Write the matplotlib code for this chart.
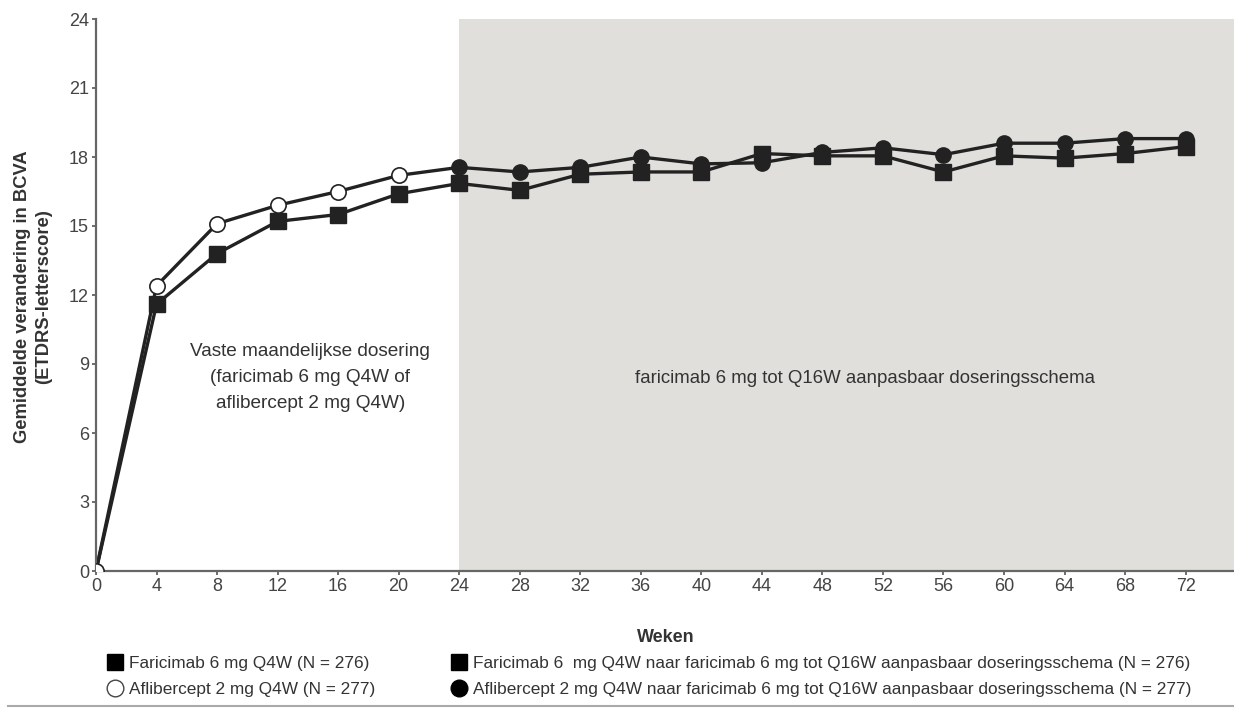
import matplotlib
matplotlib.use("Agg")
import matplotlib.pyplot as plt
from matplotlib.lines import Line2D

plt.rcParams['font.family'] = ['Liberation Sans', 'DejaVu Sans']

# weeks and mean BCVA change (ETDRS letters)
weeks = [0, 4, 8, 12, 16, 20, 24, 28, 32, 36, 40, 44, 48, 52, 56, 60, 64, 68, 72]
faricimab = [0, 11.6, 13.8, 15.2, 15.5, 16.4, 16.85, 16.55, 17.25, 17.35, 17.35, 18.15,
             18.05, 18.05, 17.35, 18.05, 17.95, 18.15, 18.45]
aflibercept = [0, 12.4, 15.1, 15.9, 16.5, 17.2, 17.55, 17.35, 17.55, 18.0, 17.7, 17.75,
               18.2, 18.4, 18.1, 18.6, 18.6, 18.8, 18.8]
switch_week = 24

yticks = [0, 3, 6, 9, 12, 15, 18, 21, 24]
xticks = list(range(0, 73, 4))

legend_labels = ["Faricimab 6 mg Q4W (N = 276)",
                 "Aflibercept 2 mg Q4W (N = 277)",
                 "Faricimab 6  mg Q4W naar faricimab 6 mg tot Q16W aanpasbaar doseringsschema (N = 276)",
                 "Aflibercept 2 mg Q4W naar faricimab 6 mg tot Q16W aanpasbaar doseringsschema (N = 277)"]

line_c = '#222222'
text_c = '#333333'

fig = plt.figure(figsize=(12.34, 7.09), dpi=100)
ax = fig.add_axes([96/1234, (709-571)/709, (1234-96)/1234, (571-19)/709])

ax.axvspan(switch_week, 80, color='#e0dfdc', zorder=0, lw=0)

ax.plot(weeks, faricimab, color=line_c, lw=2.4, zorder=2)
ax.plot(weeks, aflibercept, color=line_c, lw=2.4, zorder=2)

k = weeks.index(switch_week)
# markers
ax.plot(weeks[1:], faricimab[1:], ls='none', marker='s', ms=11, color=line_c, zorder=3)
ax.plot(weeks[:k], aflibercept[:k], ls='none', marker='o', ms=11, mfc='white',
        mec=line_c, mew=1.2, zorder=4)
ax.plot(weeks[k:], aflibercept[k:], ls='none', marker='o', ms=11, color=line_c, zorder=4)

ax.set_xlim(0, 75.2)
ax.set_ylim(0, 24)
ax.set_xticks(xticks)
ax.set_yticks(yticks)
ax.tick_params(direction='out', length=3, width=1.2, color='#555555',
               labelsize=13, labelcolor='#444444', pad=2)
for s in ['top', 'right']:
    ax.spines[s].set_visible(False)
for s in ['left', 'bottom']:
    ax.spines[s].set_color('#666666')
    ax.spines[s].set_linewidth(1.6)

ax.text(14.15, 8.4, "Vaste maandelijkse dosering\n(faricimab 6 mg Q4W of\naflibercept 2 mg Q4W)",
        ha='center', va='center', fontsize=13.7, color=text_c, linespacing=1.7)
ax.text(50.8, 8.35, "faricimab 6 mg tot Q16W aanpasbaar doseringsschema",
        ha='center', va='center', fontsize=13.4, color=text_c)

fig.text(33/1234, 1-297/709, "Gemiddelde verandering in BCVA\n(ETDRS-letterscore)",
         rotation=90, ha='center', va='center', fontsize=13.2, fontweight='bold',
         color=text_c, multialignment='center', linespacing=1.3)
fig.text(666/1234, 1-637/709, "Weken", ha='center', va='center', fontsize=13,
         fontweight='bold', color=text_c)

h_sq = Line2D([], [], ls='none', marker='s', ms=12, color='black')
h_oc = Line2D([], [], ls='none', marker='o', ms=12, mfc='white', mec='#444444', mew=1)
h_fc = Line2D([], [], ls='none', marker='o', ms=12, color='black')

leg_kw = dict(frameon=False, fontsize=12.4, labelcolor=text_c, handlelength=0.8,
              handletextpad=0.4, labelspacing=0.62, borderpad=0, borderaxespad=0,
              loc='upper left')
fig.legend([h_sq, h_oc], legend_labels[:2], bbox_to_anchor=(108/1234, 1-656/709), **leg_kw)
fig.legend([h_sq, h_fc], legend_labels[2:], bbox_to_anchor=(452/1234, 1-656/709), **leg_kw)

fig.add_artist(Line2D([8/1234, 1], [1-706/709, 1-706/709], transform=fig.transFigure,
                      color='#aaaaaa', lw=1.5))

fig.savefig('out.png', dpi=100)
